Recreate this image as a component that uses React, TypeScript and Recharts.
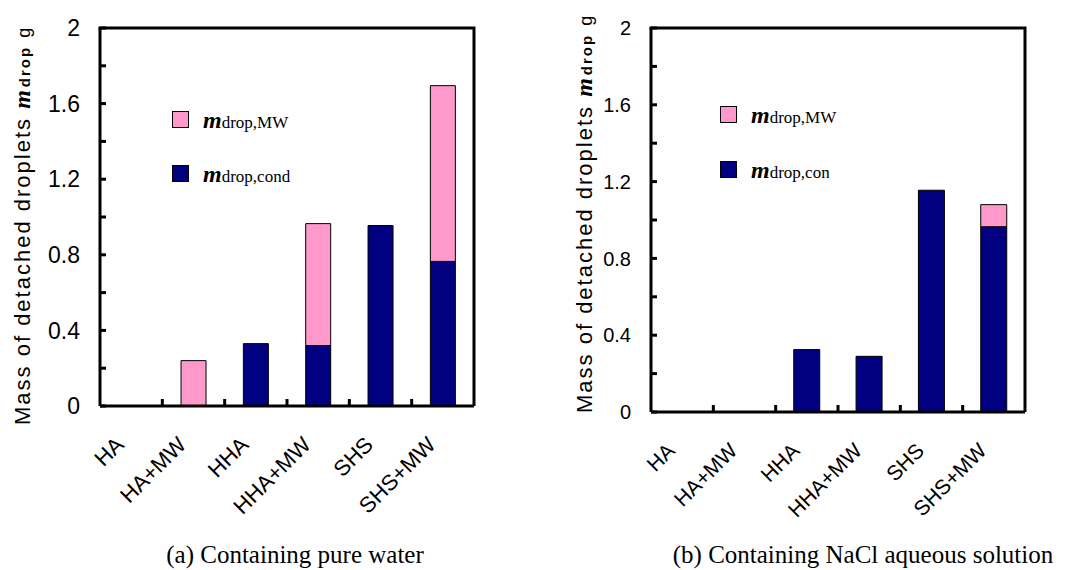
import { BarChart, Bar, XAxis, YAxis } from 'recharts'

const categories = ['HA', 'HA+MW', 'HHA', 'HHA+MW', 'SHS', 'SHS+MW']

// (a) pure water
const pureCond = [0, 0, 0.33, 0.32, 0.955, 0.765]
const pureMW = [0, 0.24, 0, 0.645, 0, 0.93]

// (b) NaCl aqueous solution
const naclCond = [0, 0, 0.325, 0.29, 1.155, 0.965]
const naclMW = [0, 0, 0, 0, 0, 0.115]

const yTicks = [0, 0.2, 0.4, 0.6, 0.8, 1, 1.2, 1.4, 1.6, 1.8, 2]
const yLabeled = [0, 0.4, 0.8, 1.2, 1.6, 2]

const NAVY = '#000080'
const PINK = '#FF99CC'
const SANS = '"Liberation Sans", Arial, sans-serif'
const SERIF = '"Liberation Serif", "Times New Roman", serif'

const TOP = 28
const X_AXIS_H = 80

type PanelProps = {
  cond: number[]
  mw: number[]
  condSub: string
  caption: string
  left: number
  yWidth: number
  mRight: number
  mBottom: number
  gap: string
  fontSize: number
  xFontSize: number
  labelX: number
  labelY: number
  captionX: number
  legendLeft: number
  legendTop: number
  legendStep: number
}

const Panel = (p: PanelProps) => {
  const data = categories.map((name, i) => ({ name, cond: p.cond[i], mw: p.mw[i] }))
  const plotW = 540 - p.yWidth - p.mRight
  const plotH = 570 - TOP - p.mBottom - X_AXIS_H
  const band = plotW / categories.length
  const legendItems = [
    { color: PINK, sub: 'drop,MW' },
    { color: NAVY, sub: p.condSub },
  ]

  const YTick = (props: any) => {
    const { x, y, payload } = props
    const v = payload.value
    const labeled = yLabeled.includes(v)
    const isTop = v === yTicks[yTicks.length - 1]
    return (
      <g>
        {isTop && (
          // top and right sides of the plot frame
          <path
            d={`M${x - 1.5},${y} L${x + plotW},${y} L${x + plotW},${y + plotH}`}
            fill="none"
            stroke="#000"
            strokeWidth={3}
          />
        )}
        <line x1={x} x2={x + 6} y1={y} y2={y} stroke="#000" strokeWidth={3} />
        {labeled && (
          <text x={x - 20} y={y} dy={p.fontSize * 0.36} textAnchor="end" fontSize={p.fontSize} fontFamily={SANS} fill="#000">
            {String(v)}
          </text>
        )}
      </g>
    )
  }

  const XTick = (props: any) => {
    const { x, y, payload, index } = props
    return (
      <g>
        <text
          transform={`translate(${x - 6},${y + 40}) rotate(-45)`}
          textAnchor="end"
          fontSize={p.xFontSize}
          fontFamily={SANS}
          fill="#000"
        >
          {payload.value}
        </text>
        {index < categories.length - 1 && (
          <line x1={x + band / 2} x2={x + band / 2} y1={y} y2={y - 7} stroke="#000" strokeWidth={3} />
        )}
      </g>
    )
  }

  const yTitle = () => (
    <text transform={`translate(${p.labelX},${p.labelY}) rotate(-90)`} fill="#000">
      <tspan fontFamily={SANS} fontSize={22} letterSpacing={2}>Mass of detached droplets </tspan>
      <tspan fontFamily={SERIF} fontSize={24} fontStyle="italic" fontWeight="bold">m</tspan>
      <tspan fontFamily={SANS} fontSize={15} fontWeight="bold" letterSpacing={2} dx={3}>drop</tspan>
      <tspan fontFamily={SANS} fontSize={18} dx={8}>g</tspan>
    </text>
  )

  const captionLabel = () => (
    <text x={p.captionX} y={563} textAnchor="middle" fontFamily={SERIF} fontSize={25} fill="#000">
      {p.caption}
    </text>
  )

  return (
    <div style={{ position: 'absolute', left: p.left, top: 0, width: 540, height: 570 }}>
      <BarChart
        width={540}
        height={570}
        data={data}
        margin={{ top: TOP, right: p.mRight, left: 0, bottom: p.mBottom }}
        barCategoryGap={p.gap}
      >
        <XAxis
          dataKey="name"
          height={X_AXIS_H}
          interval={0}
          tick={XTick}
          tickLine={false}
          tickSize={0}
          tickMargin={0}
          stroke="#000"
          strokeWidth={3}
          label={{ content: captionLabel }}
        />
        <YAxis
          domain={[0, 2]}
          ticks={yTicks}
          interval={0}
          width={p.yWidth}
          tick={YTick}
          tickLine={false}
          tickSize={0}
          tickMargin={0}
          stroke="#000"
          strokeWidth={3}
          label={{ content: yTitle }}
        />
        <Bar dataKey="cond" name="cond" stackId="a" fill={NAVY} stroke="#000" strokeWidth={1} isAnimationActive={false} />
        <Bar dataKey="mw" name="MW" stackId="a" fill={PINK} stroke="#000" strokeWidth={1} isAnimationActive={false} />
      </BarChart>
      {/* legend */}
      <div style={{ position: 'absolute', left: p.legendLeft, top: p.legendTop }}>
        {legendItems.map((it) => (
          <div key={it.sub} style={{ display: 'flex', alignItems: 'center', height: 17, marginBottom: p.legendStep - 17 }}>
            <div style={{ width: 15, height: 15, background: it.color, border: '1px solid #000' }} />
            <span style={{ marginLeft: 14, fontFamily: SERIF, lineHeight: 1, whiteSpace: 'nowrap', color: '#000' }}>
              <span style={{ fontWeight: 'bold', fontStyle: 'italic', fontSize: 24 }}>m</span>
              <span style={{ fontSize: 17 }}>{it.sub}</span>
            </span>
          </div>
        ))}
      </div>
    </div>
  )
}

export default function App() {
  return (
    <div style={{ position: 'fixed', left: 0, top: 0, width: 1080, height: 570, background: '#fff' }}>
      <Panel
        cond={pureCond}
        mw={pureMW}
        condSub="drop,cond"
        caption="(a) Containing pure water"
        left={0}
        yWidth={100}
        mRight={66}
        mBottom={84}
        gap="30%"
        fontSize={23}
        xFontSize={22}
        labelX={30}
        labelY={425}
        captionX={295}
        legendLeft={172}
        legendTop={111}
        legendStep={54}
      />
      <Panel
        cond={naclCond}
        mw={naclMW}
        condSub="drop,con"
        caption="(b) Containing NaCl aqueous solution"
        left={540}
        yWidth={111}
        mRight={55}
        mBottom={78}
        gap="29%"
        fontSize={20}
        xFontSize={21}
        labelX={52}
        labelY={413}
        captionX={323}
        legendLeft={180}
        legendTop={106}
        legendStep={55}
      />
    </div>
  )
}
